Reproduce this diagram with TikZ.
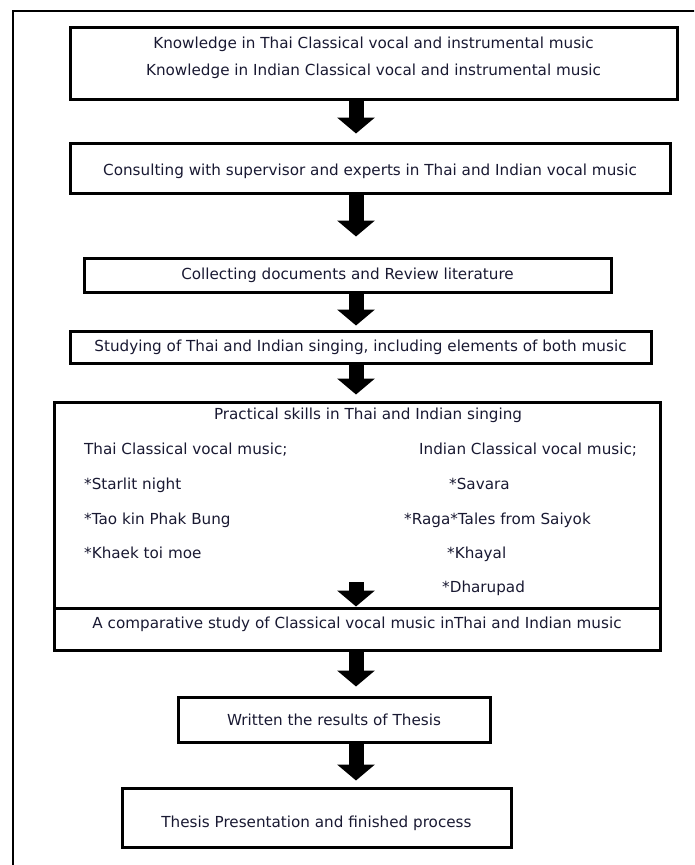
\documentclass[tikz,border=0pt]{standalone}
\usepackage{fontspec}
\setmainfont{DejaVu Sans}
\usepackage{tikz}
\usetikzlibrary{arrows.meta,positioning}
\definecolor{inktext}{RGB}{25,25,50}

\begin{document}
\begin{tikzpicture}[x=1pt, y=-1pt, font=\fontsize{15.2}{18}\selectfont, text=inktext]
    % Define styles
    \tikzstyle{stage} = [rectangle, draw=black, line width=3pt, inner sep=0pt, align=center]
    \tikzstyle{item} = [inner sep=0pt, anchor=west, text height=11pt, text depth=3pt]
    \tikzstyle{flow} = [line width=15pt, -{Triangle[width=37pt, length=16pt]}]

    \useasboundingbox (0,0) rectangle (694,865);
    \clip (0,0) rectangle (694,865);
    \draw[line width=2pt] (13,11) rectangle (720,900);
    \coordinate (ax) at (356,0);

    % Nodes
    \node[stage, minimum width=607pt, minimum height=72pt, text depth=14pt] (know) at (373.5,63)
        {Knowledge in Thai Classical vocal and instrumental music\\[9pt]
         Knowledge in Indian Classical vocal and instrumental music};
    \node[stage, minimum width=600pt, minimum height=50pt, text height=19pt] (consult) at (370,168)
        {Consulting with supervisor and experts in Thai and Indian vocal music};
    \node[stage, minimum width=527pt, minimum height=34pt] (collect) at (347.5,275)
        {Collecting documents and Review literature};
    \node[stage, minimum width=581pt, minimum height=32pt] (study) at (360.5,347)
        {Studying of Thai and Indian singing, including elements of both music};
    \node[stage, minimum width=606pt, minimum height=206pt] (practice) at (357,505) {};
    \node[stage, minimum width=606pt, minimum height=42pt, text depth=13pt] (compare) at (357,629)
        {A comparative study of Classical vocal music inThai and Indian music};
    \node[stage, minimum width=312pt, minimum height=45pt] (results) at (334,719.5)
        {Written the results of Thesis};
    \node[stage, minimum width=389pt, minimum height=59pt, text height=23pt] (present) at (316.5,817.5)
        {Thesis Presentation and finished process};

    % Practical skills contents
    \node[item, anchor=center] (skills) at (368,415) {Practical skills in Thai and Indian singing};
    \node[item] (thaihead) at (84,450) {Thai Classical vocal music;};
    \node[item, below=35pt of thaihead.west, anchor=west] (starlit) {*Starlit night};
    \node[item, below=35pt of starlit.west, anchor=west] (taokin) {*Tao kin Phak Bung};
    \node[item, below=34pt of taokin.west, anchor=west] (khaek) {*Khaek toi moe};
    \node[item] (indianhead) at (419,450) {Indian Classical vocal music;};
    \node[item] (savara) at (449,485) {*Savara};
    \node[item] (raga) at (404,520) {*Raga*Tales from Saiyok};
    \node[item] (khayal) at (447,554) {*Khayal};
    \node[item] (dharupad) at (442,588) {*Dharupad};
    \coordinate (dropstart) at (356,582);

    % Connections
    \draw[flow, shorten >=8pt] (know.south -| ax) -- (consult.north -| ax);
    \draw[flow, shorten >=20pt] (consult.south -| ax) -- (collect.north -| ax);
    \draw[flow, shorten >=4pt] (collect.south -| ax) -- (study.north -| ax);
    \draw[flow, shorten >=6pt] (study.south -| ax) -- (practice.north -| ax);
    \draw[flow] (dropstart) -- (compare.north -| ax);
    \draw[flow, shorten >=9pt] (compare.south -| ax) -- (results.north -| ax);
    \draw[flow, shorten >=6pt] (results.south -| ax) -- (present.north -| ax);
\end{tikzpicture}
\end{document}
